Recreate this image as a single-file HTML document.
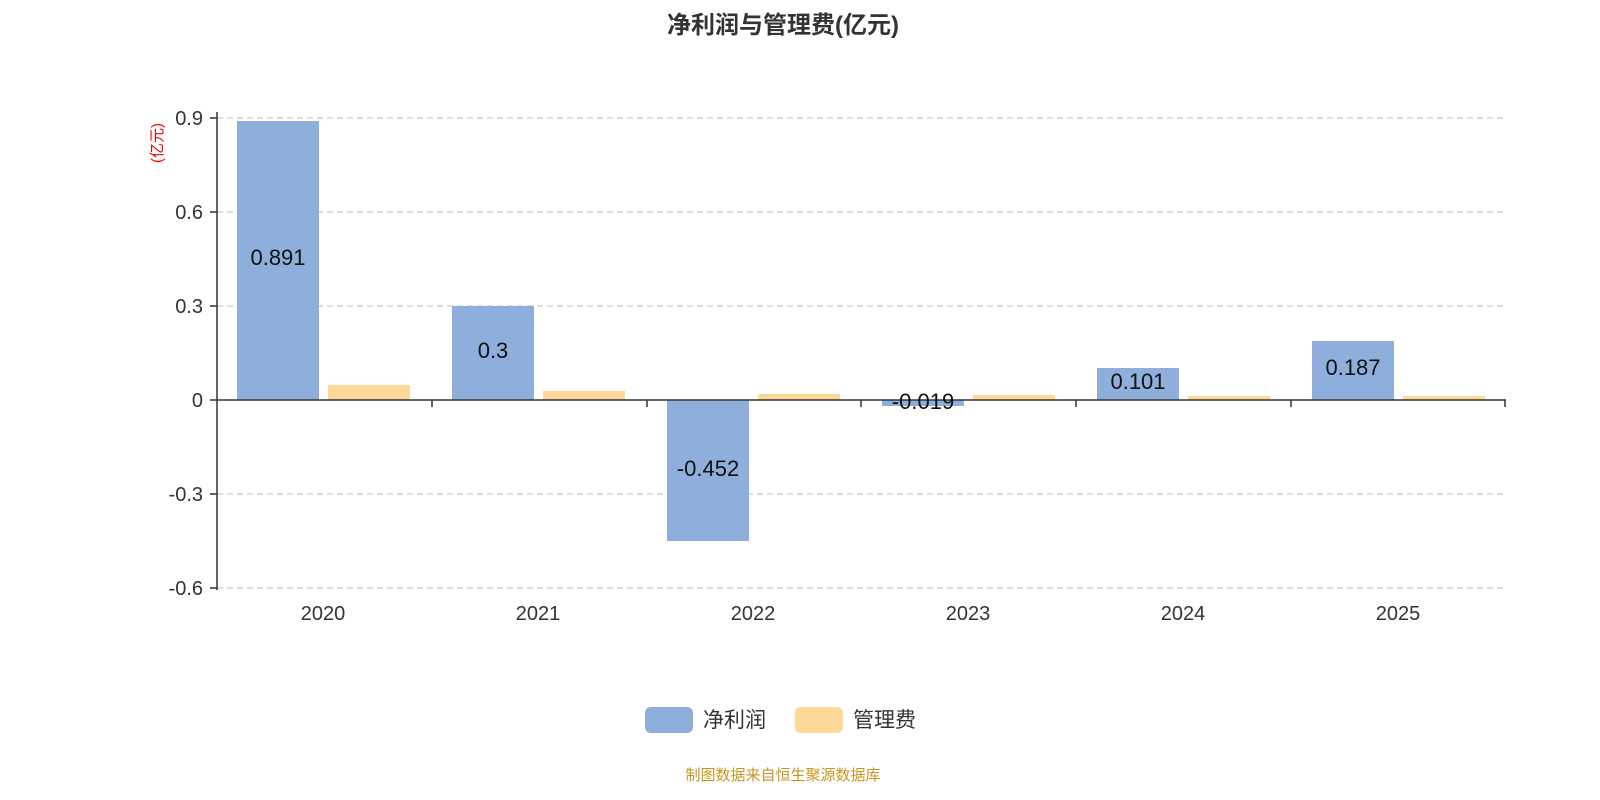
<!DOCTYPE html>
<html><head><meta charset="utf-8"><style>
body{margin:0;background:#fff;}
svg{display:block;font-family:"Liberation Sans","Noto Sans CJK SC",sans-serif;}
</style></head><body>
<svg width="1600" height="800" viewBox="0 0 1600 800">
<text x="783" y="33" text-anchor="middle" font-size="24" font-weight="bold" fill="#333">净利润与管理费(亿元)</text>
<g stroke="#bbb" stroke-dasharray="6,4" stroke-width="1">
<line x1="217" y1="118" x2="1505" y2="118"/>
<line x1="217" y1="212" x2="1505" y2="212"/>
<line x1="217" y1="306" x2="1505" y2="306"/>
<line x1="217" y1="494" x2="1505" y2="494"/>
<line x1="217" y1="588" x2="1505" y2="588"/>
</g>
<g fill="#8eaedb">
<rect x="237" y="121" width="82" height="279"/>
<rect x="452" y="306" width="82" height="94"/>
<rect x="667" y="400" width="82" height="141"/>
<rect x="882" y="400" width="82" height="6"/>
<rect x="1097" y="368" width="82" height="32"/>
<rect x="1312" y="341" width="82" height="59"/>
</g>
<g fill="#fdd897">
<rect x="328" y="385" width="82" height="15"/>
<rect x="543" y="391" width="82" height="9"/>
<rect x="758" y="394" width="82" height="6"/>
<rect x="973" y="395" width="82" height="5"/>
<rect x="1188" y="396" width="82" height="4"/>
<rect x="1403" y="396" width="82" height="4"/>
</g>
<g stroke="#333" stroke-width="1.5">
<line x1="217" y1="112" x2="217" y2="590"/>
<line x1="217" y1="400" x2="1506" y2="400"/>
<line x1="210" y1="118" x2="217" y2="118"/><line x1="210" y1="212" x2="217" y2="212"/>
<line x1="210" y1="306" x2="217" y2="306"/><line x1="210" y1="400" x2="217" y2="400"/>
<line x1="210" y1="494" x2="217" y2="494"/><line x1="210" y1="588" x2="217" y2="588"/>
<line x1="432" y1="400" x2="432" y2="407"/><line x1="647" y1="400" x2="647" y2="407"/>
<line x1="861" y1="400" x2="861" y2="407"/><line x1="1076" y1="400" x2="1076" y2="407"/>
<line x1="1291" y1="400" x2="1291" y2="407"/><line x1="1505" y1="400" x2="1505" y2="407"/>
</g>
<g font-size="20" fill="#333" text-anchor="end">
<text x="203" y="125">0.9</text><text x="203" y="219">0.6</text><text x="203" y="313">0.3</text>
<text x="203" y="407">0</text><text x="203" y="501">-0.3</text><text x="203" y="595">-0.6</text>
</g>
<text transform="translate(162,143) rotate(-90)" text-anchor="middle" font-size="15" fill="#e00">(亿元)</text>
<g font-size="20" fill="#333" text-anchor="middle">
<text x="323" y="620">2020</text><text x="538" y="620">2021</text><text x="753" y="620">2022</text>
<text x="968" y="620">2023</text><text x="1183" y="620">2024</text><text x="1398" y="620">2025</text>
</g>
<g font-size="22" fill="#111" text-anchor="middle">
<text x="278" y="265">0.891</text><text x="493" y="358">0.3</text><text x="708" y="476">-0.452</text>
<text x="923" y="409">-0.019</text><text x="1138" y="389">0.101</text><text x="1353" y="375">0.187</text>
</g>
<rect x="645" y="707" width="48" height="26" rx="6" fill="#8eaedb"/>
<text x="703" y="727" font-size="21" fill="#333">净利润</text>
<rect x="795" y="707" width="48" height="26" rx="6" fill="#fdd897"/>
<text x="853" y="727" font-size="21" fill="#333">管理费</text>
<text x="783" y="780" text-anchor="middle" font-size="15" fill="#c8961e">制图数据来自恒生聚源数据库</text>
</svg>
</body></html>
